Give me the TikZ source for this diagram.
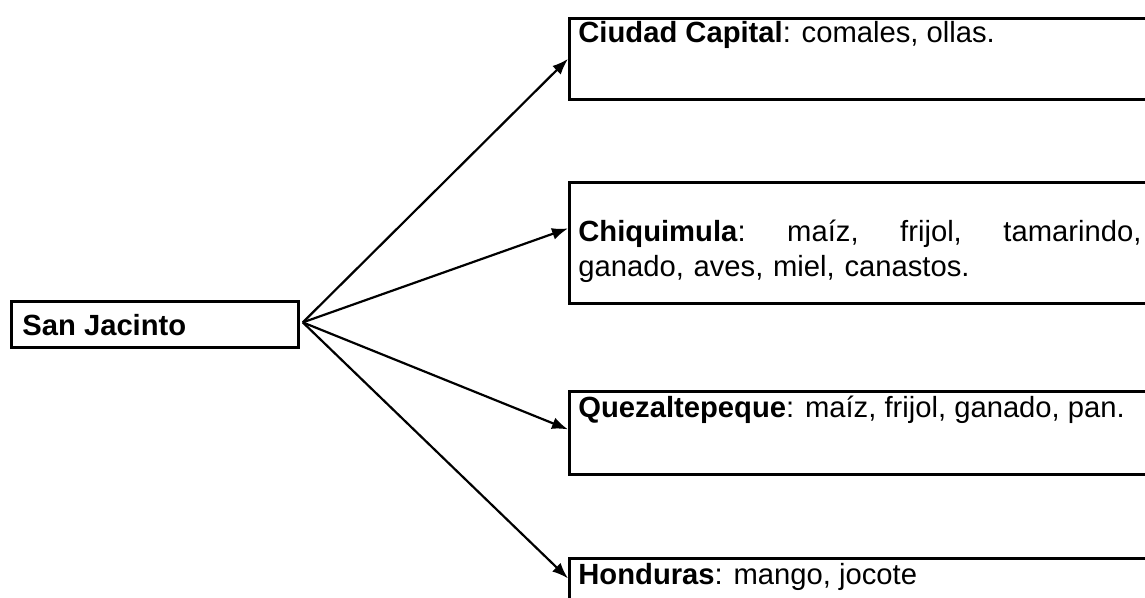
\documentclass[tikz,border=0pt]{standalone}
\usepackage{fontspec}
\setmainfont{Liberation Sans}
\usetikzlibrary{arrows.meta}

\begin{document}
\begin{tikzpicture}[
  x=0.5pt, y=-0.5pt,
  box/.style={draw, line width=1.4pt, anchor=north west, inner sep=0pt,
    minimum width=290pt},
  txt/.style={anchor=base west, inner sep=0pt,
    font=\fontsize{14.6}{17.5}\selectfont},
  arrow/.style={-{Latex[length=8pt,width=6pt]}, line width=1.1pt}
]
\useasboundingbox (0,0) rectangle (1145,598);

% boxes
\node[box, minimum width=143.5pt, minimum height=23pt] (sj) at (10,300) {};
\node[box, minimum height=40.5pt] (ciudad) at (568,17) {};
\node[box, minimum height=60.5pt] (chiq)   at (568,181) {};
\node[box, minimum height=41.5pt] (quez)   at (568,390) {};
\node[box, minimum height=41.5pt] (hond)   at (568,557) {};

% texts
\node[txt] (sjtxt) at (22,336) {\textbf{San Jacinto}};
\node[txt] (ciudadtxt) at (578,43) {\textbf{Ciudad Capital}: comales, ollas.};
\node[txt, text width=281.5pt, align=left] (chiqtxt) at (578,242)
  {\textbf{Chiquimula}:\hfill maíz,\hfill frijol,\hfill tamarindo,\\
   ganado, aves, miel, canastos.};
\node[txt] (queztxt) at (578,417) {\textbf{Quezaltepeque}: maíz, frijol, ganado, pan.};
\node[txt] (hondtxt) at (578,584) {\textbf{Honduras}: mango, jocote};

% arrows
\coordinate (fork) at ([xshift=1.5pt, yshift=1pt]sj.east);
\draw[arrow] (fork) -- (ciudad.west);
\draw[arrow] (fork) -- ([yshift=7.25pt]chiq.west);
\draw[arrow] (fork) -- ([yshift=1.75pt]quez.west);
\draw[arrow] (fork) -- ([yshift=10.75pt]hond.west);

\end{tikzpicture}
\end{document}
